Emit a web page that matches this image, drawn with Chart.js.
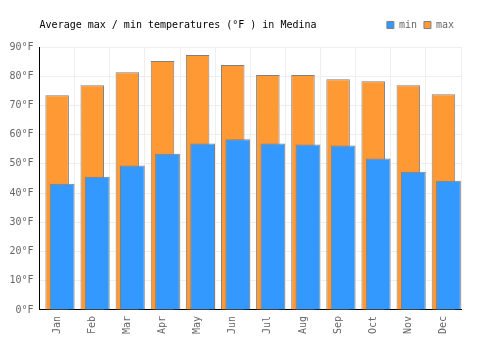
<!DOCTYPE html>
<html>
<head>
<meta charset="utf-8">
<script src="https://cdn.jsdelivr.net/npm/chart.js@4"></script>
<style>
  body { margin: 0; background: #fff; }
</style>
</head>
<body>
<canvas id="tempChart" width="500" height="350"></canvas>
<script>
var months = ['Jan', 'Feb', 'Mar', 'Apr', 'May', 'Jun', 'Jul', 'Aug', 'Sep', 'Oct', 'Nov', 'Dec'];
var minTemps = [43.2, 45.6, 49.4, 53.5, 57.0, 58.4, 57.0, 56.6, 56.3, 51.8, 47.3, 44.2];
var maxTemps = [73.5, 76.9, 81.4, 85.2, 87.3, 83.8, 80.4, 80.4, 79.0, 78.3, 76.9, 73.8];
var yTicks = [0, 10, 20, 30, 40, 50, 60, 70, 80, 90];

var monoFont = { family: '"DejaVu Sans Mono", monospace', size: 10 };

new Chart(document.getElementById('tempChart'), {
    type: 'bar',
    data: {
        labels: months,
        datasets: [{
            // empty slot so the min bars sit right of centre
            label: '',
            data: [],
            categoryPercentage: 0.5714,
            barPercentage: 2.47
        }, {
            label: 'min',
            data: minTemps,
            backgroundColor: '#3399ff',
            borderColor: '#808080',
            borderWidth: 1,
            categoryPercentage: 0.5714,
            barPercentage: 2.47
        }, {
            label: 'max',
            data: maxTemps,
            backgroundColor: '#ff9933',
            borderColor: '#808080',
            borderWidth: 1,
            grouped: false,
            categoryPercentage: 1,
            barPercentage: 0.67
        }]
    },
    options: {
        responsive: false,
        animation: false,
        layout: {
            padding: { top: 13, left: 3.5, right: 39, bottom: 10 }
        },
        plugins: {
            legend: {
                position: 'top',
                align: 'end',
                weight: 3000,
                labels: {
                    boxWidth: 7,
                    boxHeight: 7,
                    padding: 7,
                    color: '#666',
                    font: monoFont,
                    filter: function(item) { return item.text !== ''; }
                }
            },
            title: {
                display: true,
                text: 'Average max / min temperatures (°F ) in Medina',
                align: 'start',
                fullSize: false,
                color: '#000',
                font: { family: '"DejaVu Sans Mono", monospace', size: 10, weight: 'normal' },
                padding: { top: -21, bottom: 16 }
            },
            tooltip: { enabled: false }
        },
        scales: {
            x: {
                grid: { color: '#eeeeee', drawTicks: false },
                border: { color: '#000' },
                ticks: {
                    color: '#666',
                    font: monoFont,
                    minRotation: 90,
                    maxRotation: 90,
                    padding: 6
                }
            },
            y: {
                min: 0,
                max: 90,
                afterBuildTicks: function(axis) {
                    axis.ticks = yTicks.map(function(v) { return { value: v }; });
                },
                grid: { color: '#eeeeee', drawTicks: false },
                border: { color: '#000' },
                ticks: {
                    color: '#666',
                    font: monoFont,
                    padding: 6,
                    callback: function(v) { return v + '°F'; }
                }
            }
        }
    }
});
</script>
</body>
</html>
